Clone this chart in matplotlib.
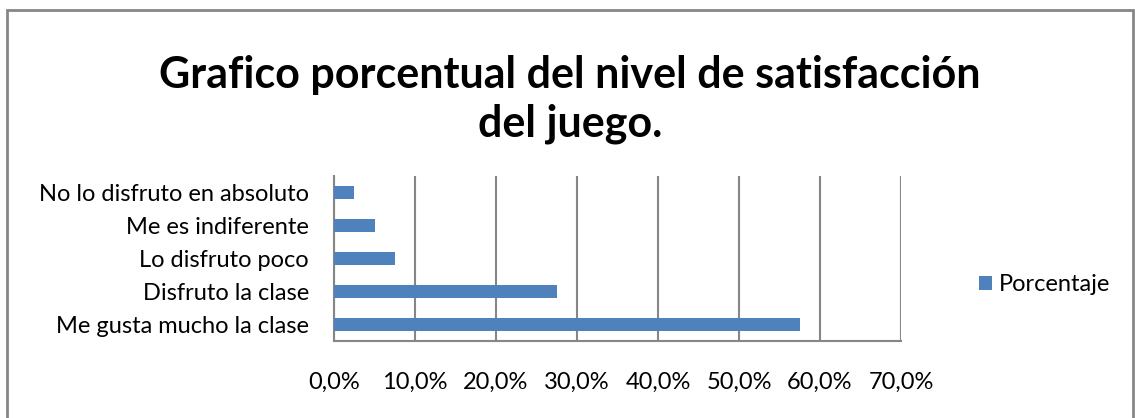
import matplotlib.pyplot as plt
from matplotlib.patches import Rectangle
from matplotlib.ticker import FuncFormatter

categorias = ["Me gusta mucho la clase", "Disfruto la clase", "Lo disfruto poco",
              "Me es indiferente", "No lo disfruto en absoluto"]
porcentaje = [57.5, 27.5, 7.5, 5.0, 2.5]
ticks_x = [0, 10, 20, 30, 40, 50, 60, 70]

plt.rcParams['font.family'] = ['Lato', 'DejaVu Sans']
gris = '#868686'

fig = plt.figure(figsize=(11.35, 4.18), dpi=100)
ax = fig.add_axes([0.2943, 0.1842, 0.4995, 0.3948])

ax.barh(categorias, porcentaje, height=0.42, color='#4F81BD', label='Porcentaje', zorder=3)
ax.set_xlim(0, 70)
ax.set_ylim(-0.5, 4.5)
ax.set_xticks(ticks_x)
ax.xaxis.set_major_formatter(FuncFormatter(lambda v, p: f"{v:.1f}%".replace('.', ',')))
ax.grid(axis='x', color=gris, linewidth=1.5, zorder=0)
ax.tick_params(axis='both', length=0, labelsize=17)
ax.tick_params(axis='x', pad=22)
ax.tick_params(axis='y', pad=18)

for s in ['top', 'right']:
    ax.spines[s].set_visible(False)
for s in ['left', 'bottom']:
    ax.spines[s].set_color(gris)
    ax.spines[s].set_linewidth(1.5)

fig.text(0.502, 0.762, "Grafico porcentual del nivel de satisfacción\ndel juego.",
         ha='center', va='center', fontsize=31, fontweight='bold',
         linespacing=1.27)

ax.legend(loc='center left', bbox_to_anchor=(1.1, 0.34), frameon=False,
          fontsize=17, handlelength=0.55, handleheight=0.55, handletextpad=0.3)

# marco exterior del grafico
fig.patches.append(Rectangle((7 / 1135, -0.05), 1126 / 1135, 1.05 - 10 / 418,
                             transform=fig.transFigure, fill=False,
                             edgecolor=gris, linewidth=2))

fig.savefig('out.png', dpi=100)
